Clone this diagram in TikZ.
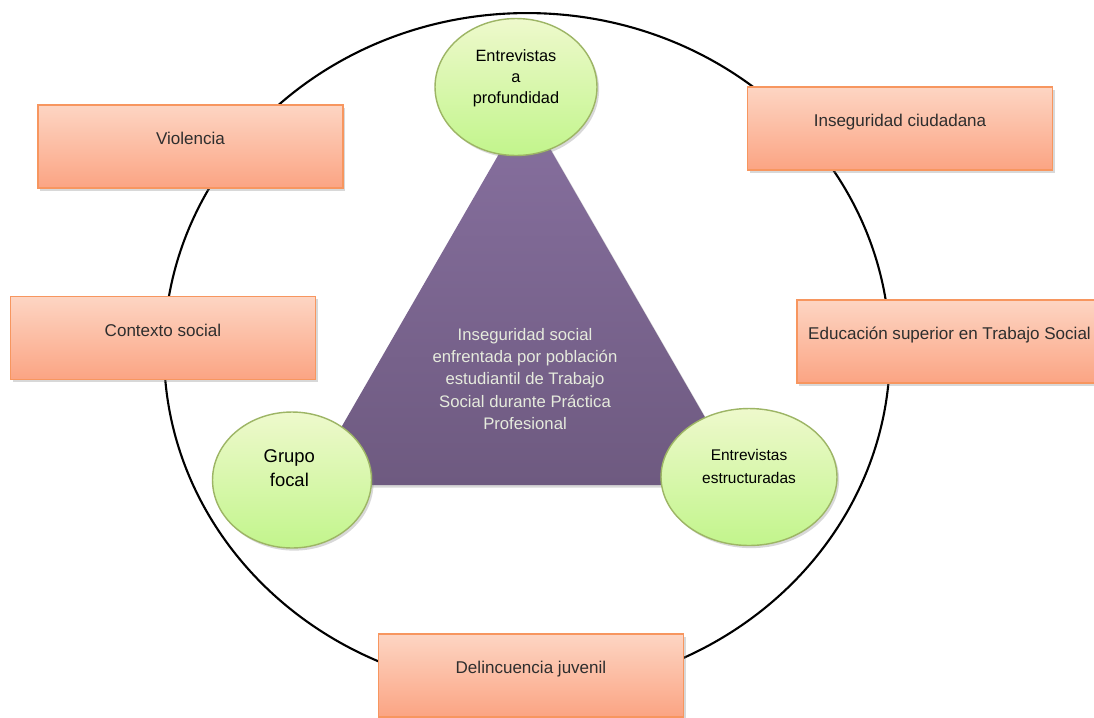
\documentclass[tikz,border=0pt]{standalone}
\usepackage{fontspec}
\setmainfont{Liberation Sans}
\usetikzlibrary{shapes.geometric,shadows}
\definecolor{boxtop}{HTML}{FDD5C3}
\definecolor{boxbot}{HTML}{FBA483}
\definecolor{boxline}{HTML}{F7965F}
\definecolor{elltop}{HTML}{EEF9CC}
\definecolor{ellbot}{HTML}{C2F58C}
\definecolor{ellline}{HTML}{9DB565}
\definecolor{tritop}{HTML}{87709F}
\definecolor{tribot}{HTML}{6E5A80}
\definecolor{tritext}{HTML}{E6EBDD}
\definecolor{boxtext}{HTML}{2E2E2E}
\begin{document}
\begin{tikzpicture}[x=0.02cm,y=-0.02cm,
  softshadow/.style={drop shadow={shadow xshift=1.2pt,shadow yshift=-1.5pt,opacity=0.3}},
  topicbox/.style={rectangle, draw=boxline, line width=0.8pt, top color=boxtop, bottom color=boxbot,
    minimum width=6.1cm, minimum height=1.66cm, inner sep=0pt, softshadow,
    font=\fontsize{9.7}{12}\selectfont, text=boxtext, text height=7pt, text depth=9pt},
  method/.style={ellipse, draw=ellline, line width=0.8pt, top color=elltop, bottom color=ellbot,
    inner sep=0pt, softshadow},
  methodtext/.style={align=center, text=black, inner sep=0pt},
  ring/.style={ellipse, draw=black, line width=1.2pt, minimum width=14.52cm, minimum height=13.56cm, inner sep=0pt},
  centertext/.style={align=center, text=tritext, inner sep=0pt, font=\fontsize{9.5}{12.6}\selectfont}]
\fill[white] (0,0) rectangle (1094,717);
\useasboundingbox (0,0) rectangle (1094,717);

% outer ring
\node[ring] (ring) at (527,352) {};

% central triangle
\coordinate (apex) at (526,107);
\coordinate (tl) at (308,485);
\coordinate (tr) at (744,485);
\shade[top color=tritop, bottom color=tribot, softshadow] (apex) -- (tr) -- (tl) -- cycle;
\node[centertext] (core) at (525,379) {Inseguridad social\\enfrentada por población\\estudiantil de Trabajo\\Social durante Práctica\\Profesional};

% method ellipses
\node[method, minimum width=3.24cm, minimum height=2.74cm] (eprof) at (516,87) {};
\node[methodtext, font=\fontsize{9.3}{12}\selectfont] (tprof) at ([yshift=5pt]eprof.center) {Entrevistas\\a\\profundidad};
\node[method, minimum width=3.52cm, minimum height=2.74cm] (eestr) at (749,477) {};
\node[methodtext, font=\fontsize{8.8}{13}\selectfont] (testr) at ([yshift=6pt]eestr.center) {Entrevistas\\estructuradas};
\node[method, minimum width=3.18cm, minimum height=2.72cm] (egrupo) at (292,480) {};
\node[methodtext, font=\fontsize{10.5}{13.7}\selectfont] (tgrupo) at ([xshift=-1.5pt,yshift=7pt]egrupo.center) {Grupo\\focal};

% topic boxes
\node[topicbox] (bviol) at (190.5,146.5) {Violencia};
\node[topicbox] (bctx) at (163,338) {Contexto social};
\node[topicbox] (bins) at (900,128.5) {Inseguridad ciudadana};
\node[topicbox] (bedu) at (949.5,341.5) {Educación superior en Trabajo Social};
\node[topicbox] (bdel) at (531,675.5) {Delincuencia juvenil};
\end{tikzpicture}
\end{document}
